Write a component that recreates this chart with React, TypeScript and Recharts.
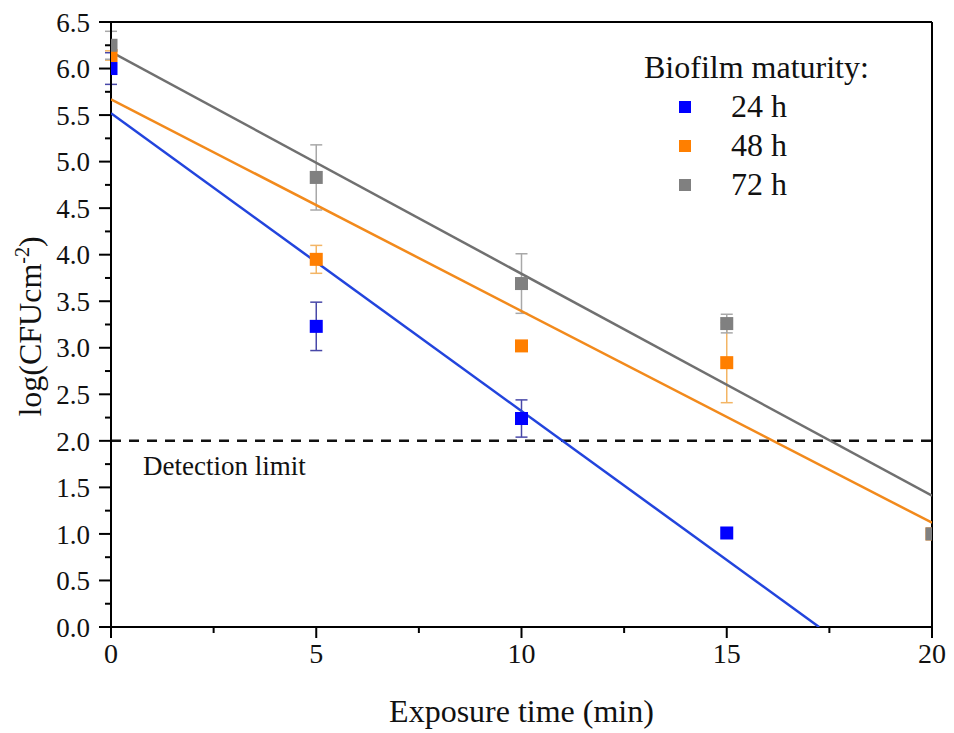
import {
  ComposedChart,
  Scatter,
  XAxis,
  YAxis,
  ErrorBar,
  ReferenceLine,
  Label,
} from "recharts";

const FONT = "'Liberation Serif', 'Times New Roman', serif";

// exposure time (min)
const times = [0, 5, 10, 15, 20];

// log(CFU cm-2) means and errors per biofilm age
const mean24 = [6.0, 3.23, 2.24, 1.01, null];
const err24 = [0.17, 0.26, 0.2, 0, null];
const mean48 = [6.14, 3.95, 3.02, 2.84, 1.0];
const err48 = [0.05, 0.15, 0, 0.43, 0];
const mean72 = [6.25, 4.83, 3.69, 3.26, 1.0];
const err72 = [0.15, 0.35, 0.32, 0.1, 0];

// linear fits: intercept, slope
const fitIntercepts = [5.52, 5.67, 6.18];
const fitSlopes = [-0.32, -0.2275, -0.2385];

const seriesNames = ["24 h", "48 h", "72 h"];
const markerColors = ["#0000ff", "#ff7f00", "#808080"];
const lineColors = ["#2244dd", "#f28a1c", "#707070"];
const errColors = ["#4848a8", "#f3b565", "#a8a8a8"];

const xMajor = [0, 5, 10, 15, 20];
const xMinor = [2.5, 7.5, 12.5, 17.5];
const yMajor = [0, 0.5, 1, 1.5, 2, 2.5, 3, 3.5, 4, 4.5, 5, 5.5, 6, 6.5];
const yMinor = yMajor.slice(1).map((v, i) => (v + yMajor[i]) / 2);
const detectionLimit = 2;

const toPoints = (means: (number | null)[], errs: (number | null)[]) =>
  times
    .map((t, i) => ({ x: t, y: means[i], err: errs[i] }))
    .filter((p) => p.y !== null);

const fitLine = (i: number) => {
  const a = fitIntercepts[i];
  const b = fitSlopes[i];
  const xEnd = Math.min(20, -a / b);
  return [
    { x: 0, y: a },
    { x: xEnd, y: a + b * xEnd },
  ];
};

const data24 = toPoints(mean24, err24);
const data48 = toPoints(mean48, err48);
const data72 = toPoints(mean72, err72);
const allData = [data24, data48, data72];

// layout
const W = 954;
const H = 733;
const LEFT_W = 111;
const RIGHT_W = 10;
const MARGIN_R = 12;
const PLOT_L = LEFT_W;
const PLOT_R = W - MARGIN_R - RIGHT_W;

const TICK = 12;
const GAP = 0;

const isMajorY = (v: number) => yMajor.includes(v);
const isMajorX = (v: number) => xMajor.includes(v);

const LeftTick = (props: any) => {
  const { x, y, payload } = props;
  const ax = x + TICK + GAP;
  const major = isMajorY(payload.value);
  return (
    <g>
      <line x1={ax} x2={ax - (major ? 12 : 6)} y1={y} y2={y} stroke="#000" strokeWidth={2} />
      {major && (
        <text
          x={ax - 21}
          y={y}
          dy="0.36em"
          textAnchor="end"
          fontSize={27}
          fontFamily={FONT}
          fill="#111"
        >
          {payload.value.toFixed(1)}
        </text>
      )}
    </g>
  );
};

const RightTick = (props: any) => {
  const { x, y, payload } = props;
  const ax = x - TICK - GAP;
  const major = isMajorY(payload.value);
  return <line x1={ax} x2={ax - (major ? 10 : 6)} y1={y} y2={y} stroke="#000" strokeWidth={2} />;
};

const BottomTick = (props: any) => {
  const { x, y, payload } = props;
  const ay = y - TICK - GAP;
  const major = isMajorX(payload.value);
  return (
    <g>
      <line x1={x} x2={x} y1={ay} y2={ay + (major ? 11 : 6)} stroke="#000" strokeWidth={2} />
      {major && (
        <text
          x={x}
          y={ay + 36}
          textAnchor="middle"
          fontSize={28}
          fontFamily={FONT}
          fill="#111"
        >
          {payload.value}
        </text>
      )}
    </g>
  );
};

// square marker, cut at the plot frame like the original
const squareShape = (color: string, size: number) => (props: any) => {
  const { cx, cy } = props;
  if (cx == null || cy == null) return <g />;
  const x0 = Math.max(cx - size / 2, PLOT_L);
  const x1 = Math.min(cx + size / 2, PLOT_R);
  return <rect x={x0} y={cy - size / 2} width={x1 - x0} height={size} fill={color} />;
};

const noShape = () => <g />;

export default function App() {
  return (
    <div style={{ position: "absolute", left: 0, top: 0, width: W, height: H, background: "#fff" }}>
      <ComposedChart
        width={W}
        height={H}
        margin={{ top: 12, right: MARGIN_R, left: 0, bottom: 0 }}
      >
        <XAxis
          dataKey="x"
          type="number"
          domain={[0, 20]}
          ticks={[...xMajor, ...xMinor].sort((a, b) => a - b)}
          interval={0}
          height={106}
          tickSize={TICK}
          tickMargin={GAP}
          tickLine={false}
          tick={<BottomTick />}
          axisLine={{ stroke: "#000", strokeWidth: 2 }}
          allowDataOverflow
        >
          <Label
            content={(p: any) => {
              const vb = p.viewBox;
              return (
                <text
                  x={vb.x + vb.width / 2}
                  y={vb.y + 95}
                  textAnchor="middle"
                  fontSize={32}
                  fontFamily={FONT}
                  fill="#111"
                >
                  Exposure time (min)
                </text>
              );
            }}
          />
        </XAxis>
        <XAxis
          xAxisId="top"
          orientation="top"
          type="number"
          domain={[0, 20]}
          height={10}
          tick={false}
          tickLine={false}
          axisLine={{ stroke: "#000", strokeWidth: 2 }}
        />
        <YAxis
          dataKey="y"
          type="number"
          domain={[0, 6.5]}
          ticks={[...yMajor, ...yMinor].sort((a, b) => a - b)}
          interval={0}
          width={LEFT_W}
          tickSize={TICK}
          tickMargin={GAP}
          tickLine={false}
          tick={<LeftTick />}
          axisLine={{ stroke: "#000", strokeWidth: 2 }}
          allowDataOverflow
        >
          <Label
            content={(p: any) => {
              const vb = p.viewBox;
              const cx = vb.x + 30;
              const cy = vb.y + vb.height / 2 + 2;
              return (
                <text
                  x={cx}
                  y={cy}
                  transform={`rotate(-90, ${cx}, ${cy})`}
                  textAnchor="middle"
                  dy="0.35em"
                  fontSize={32}
                  fontFamily={FONT}
                  fill="#111"
                >
                  log(CFUcm
                  <tspan dy={-12} fontSize={20}>
                    -2
                  </tspan>
                  <tspan dy={12}>)</tspan>
                </text>
              );
            }}
          />
        </YAxis>
        <YAxis
          yAxisId="right"
          orientation="right"
          type="number"
          domain={[0, 6.5]}
          ticks={[...yMajor, ...yMinor].sort((a, b) => a - b)}
          interval={0}
          width={RIGHT_W}
          tickSize={TICK}
          tickMargin={GAP}
          tickLine={false}
          tick={<RightTick />}
          axisLine={{ stroke: "#000", strokeWidth: 2 }}
        />

        <ReferenceLine
          y={detectionLimit}
          stroke="#111"
          strokeWidth={2.5}
          strokeDasharray="10 8"
          label={(p: any) => {
            const vb = p.viewBox;
            return (
              <text x={vb.x + 32} y={vb.y + 34} fontSize={27} fontFamily={FONT} fill="#111">
                Detection limit
              </text>
            );
          }}
        />

        {[0, 1, 2].map((i) => (
          <Scatter
            key={`fit-${i}`}
            name={`fit ${seriesNames[i]}`}
            data={fitLine(i)}
            line={{ stroke: lineColors[i], strokeWidth: 2.5 }}
            shape={noShape}
            legendType="none"
            isAnimationActive={false}
          />
        ))}

        {allData.map((d, i) => (
          <Scatter
            key={seriesNames[i]}
            name={seriesNames[i]}
            data={d}
            shape={squareShape(markerColors[i], 13)}
            isAnimationActive={false}
          >
            <ErrorBar
              dataKey="err"
              direction="y"
              width={6}
              stroke={errColors[i]}
              strokeWidth={1.5}
              isAnimationActive={false}
            />
          </Scatter>
        ))}
      </ComposedChart>

      <div
        style={{
          position: "absolute",
          left: 644,
          top: 48,
          fontFamily: FONT,
          color: "#111",
          fontSize: 32,
          lineHeight: "39px",
        }}
      >
        <div style={{ whiteSpace: "nowrap" }}>Biofilm maturity:</div>
        {seriesNames.map((n, i) => (
          <div key={n} style={{ display: "flex", alignItems: "center", whiteSpace: "nowrap" }}>
            <span
              style={{
                display: "inline-block",
                width: 12,
                height: 12,
                background: markerColors[i],
                marginLeft: 35,
                marginRight: 40,
              }}
            />
            <span>{n}</span>
          </div>
        ))}
      </div>
    </div>
  );
}
